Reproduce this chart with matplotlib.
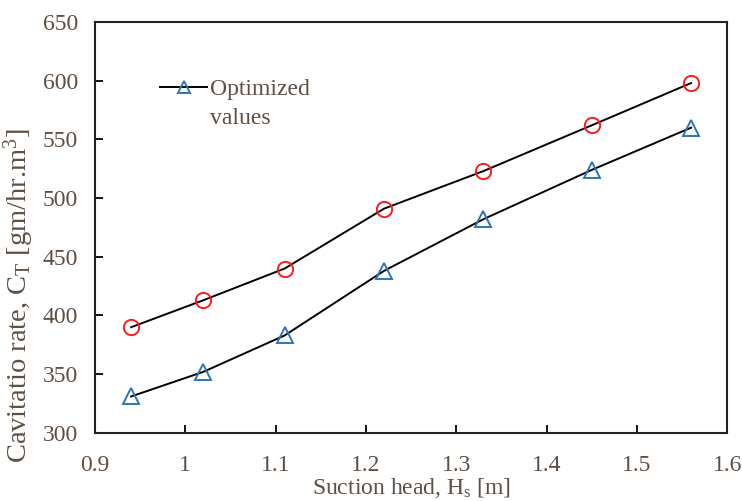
import matplotlib
matplotlib.use("Agg")
import matplotlib.pyplot as plt
from matplotlib.ticker import MultipleLocator

plt.rcParams['font.family'] = ['Liberation Serif', 'DejaVu Serif']
plt.rcParams['mathtext.fontset'] = 'custom'
plt.rcParams['mathtext.rm'] = 'Liberation Serif'
plt.rcParams['mathtext.it'] = 'Liberation Serif'

suction_head = [0.94, 1.02, 1.11, 1.22, 1.33, 1.45, 1.56]
measured = [390, 413, 440, 491, 523, 562, 598]
optimized = [331, 352, 383, 438, 482, 524, 560]
x_ticks = [0.9, 1.0, 1.1, 1.2, 1.3, 1.4, 1.5, 1.6]
x_tick_labels = ['0.9', '1', '1.1', '1.2', '1.3', '1.4', '1.5', '1.6']

text_color = '#5e4f42'

fig = plt.figure(figsize=(7.42, 5.01), dpi=100)
ax = fig.add_axes([0.128, 0.136, 0.852, 0.820])

ax.plot(suction_head, measured, color='black', lw=1.4, marker='o', ms=11,
        mfc='none', mec='#ff1a1a', mew=1.4, zorder=3)
ax.plot(suction_head, optimized, color='black', lw=1.4, marker='^', ms=11,
        mfc='none', mec='#2e75b6', mew=1.4, zorder=3, label='Optimized')

ax.set_xlim(0.9, 1.6)
ax.set_ylim(300, 650)
ax.yaxis.set_major_locator(MultipleLocator(50))
ax.set_xticks(x_ticks)
ax.set_xticklabels(x_tick_labels)
ax.tick_params(direction='in', length=6, width=1.3, labelsize=17,
               labelcolor=text_color)
ax.tick_params(axis='x', pad=16)
ax.tick_params(axis='y', pad=12)
for s in ax.spines.values():
    s.set_linewidth(1.5)
    s.set_color('#222222')

ax.set_xlabel('Suction head, H$_\\mathrm{s}$ [m]', fontsize=17, color=text_color, labelpad=0)
ax.set_ylabel('Cavitatio rate, C$_\\mathrm{T}$ [gm/hr.m$^\\mathrm{3}$]', fontsize=20.5,
              color=text_color)
ax.yaxis.set_label_coords(-0.094, 0.335)

leg = ax.legend(loc='center left', bbox_to_anchor=(160 / 742, (501 - 89) / 501),
                bbox_transform=fig.transFigure, frameon=False, fontsize=17,
                handlelength=2.0, handletextpad=0.12, borderaxespad=0, borderpad=0,
                markerscale=0.75)
for t in leg.get_texts():
    t.set_color(text_color)
fig.text(210 / 742, (501 - 119) / 501, 'values', fontsize=17,
         color=text_color, va='center', ha='left')

fig.savefig('out.png', dpi=100)
